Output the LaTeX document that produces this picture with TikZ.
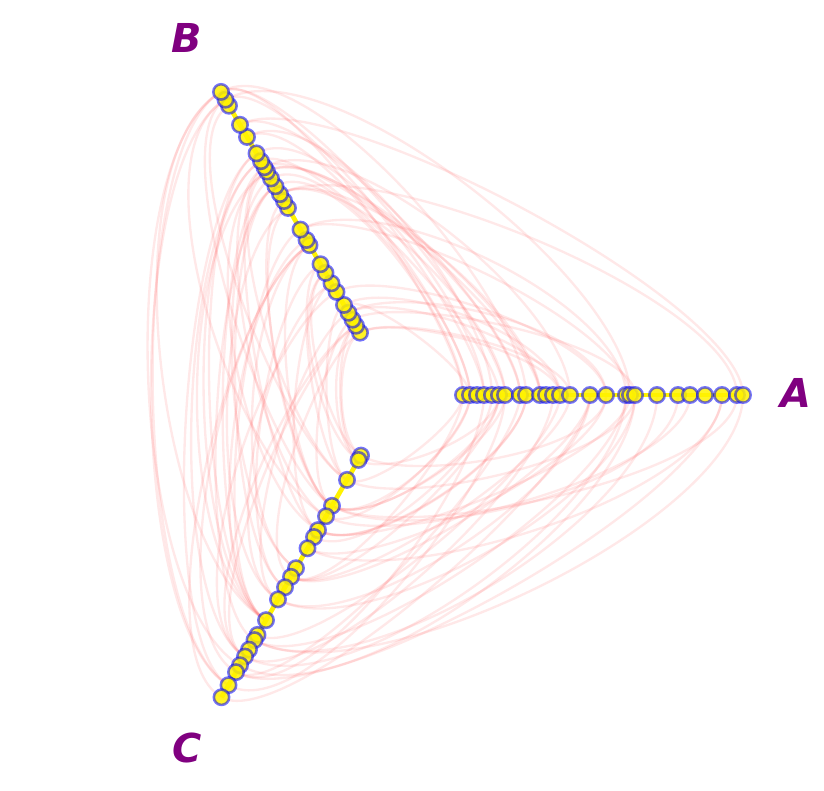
\documentclass[tikz,border=0pt]{standalone}
\usepackage{fontspec}
\setmainfont{DejaVu Sans}
\usetikzlibrary{backgrounds}
\definecolor{labpurple}{RGB}{128,0,128}
\begin{document}
\begin{tikzpicture}[
  x=0.03cm, y=0.03cm,
  hnode/.style={circle, draw=blue, draw opacity=0.55, fill=yellow, fill opacity=0.85,
    line width=2.2pt, minimum size=0.46cm, inner sep=0pt},
  hedge/.style={red!70, draw opacity=0.13, line width=2pt},
  axlabel/.style={font=\fontsize{34}{34}\selectfont\bfseries\itshape, text=labpurple},
]
  \useasboundingbox (0,0) rectangle (824,-790);
  \coordinate (c) at (396,-395);

  % axis lines
  \draw[yellow, line width=4pt] ([shift={(c)}]0:67) -- ([shift={(c)}]0:347);
  \draw[yellow, line width=4pt] ([shift={(c)}]120:72) -- ([shift={(c)}]120:350);
  \draw[yellow, line width=4pt] ([shift={(c)}]240:70) -- ([shift={(c)}]240:349);

  % nodes on the three axes
  \foreach \r [count=\i] in {67,74,81,88,96,103,109,124,130,144,150,157,164,174,194,210,230,234,239,261,282,294,309,326,341,347}
    \node[hnode] (a\i) at ([shift={(c)}]0:\r) {};
  \foreach \r [count=\i] in {72,80,87,95,104,119,129,141,151,173,179,191,216,224,232,241,250,258,263,270,279,298,312,334,341,350}
    \node[hnode] (b\i) at ([shift={(c)}]120:\r) {};
  \foreach \r [count=\i] in {70,75,98,128,140,156,164,177,200,210,222,236,260,277,283,294,302,312,320,335,349}
    \node[hnode] (c\i) at ([shift={(c)}]240:\r) {};

  % edges
  \begin{scope}[on background layer]
    \pgfmathsetseed{7}
    \foreach \k in {1,...,30} {
      \pgfmathrandominteger{\p}{1}{26}
      \pgfmathrandominteger{\q}{1}{26}
      \pgfmathsetmacro{\lo}{0.4+0.25*rnd}
      \draw[hedge] (a\p.center) to[out=90, in=30, looseness=\lo] (b\q.center);
    }
    \foreach \k in {1,...,45} {
      \pgfmathrandominteger{\p}{1}{26}
      \pgfmathrandominteger{\q}{1}{21}
      \pgfmathsetmacro{\lo}{0.4+0.25*rnd}
      \draw[hedge] (b\p.center) to[out=210, in=150, looseness=\lo] (c\q.center);
    }
    \foreach \k in {1,...,35} {
      \pgfmathrandominteger{\p}{1}{21}
      \pgfmathrandominteger{\q}{1}{26}
      \pgfmathsetmacro{\lo}{0.4+0.25*rnd}
      \draw[hedge] (c\p.center) to[out=330, in=270, looseness=\lo] (a\q.center);
    }
  \end{scope}

  % axis labels
  \node[axlabel] (la) at (796,-393) {A};
  \node[axlabel] (lb) at (187,-38) {B};
  \node[axlabel] (lc) at (187,-748) {C};
\end{tikzpicture}
\end{document}
